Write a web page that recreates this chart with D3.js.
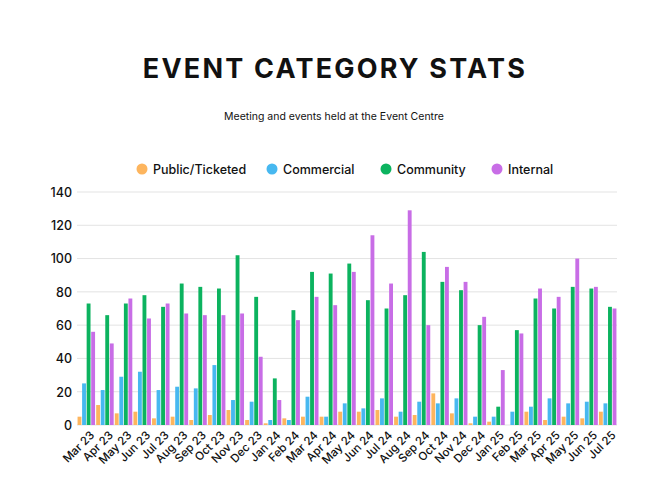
<!DOCTYPE html>
<html>
<head>
<meta charset="utf-8">
<script src="https://cdn.jsdelivr.net/npm/d3@7"></script>
<style>
  body { margin: 0; background: #fff; }
  text { font-family: Inter, "Noto Sans", sans-serif; fill: #111; }
</style>
</head>
<body>
<div id="chart"></div>
<script>
// months shown along the x axis
var months = ["Mar 23","Apr 23","May 23","Jun 23","Jul 23","Aug 23","Sep 23","Oct 23","Nov 23","Dec 23",
  "Jan 24","Feb 24","Mar 24","Apr 24","May 24","Jun 24","Jul 24","Aug 24","Sep 24","Oct 24","Nov 24","Dec 24",
  "Jan 25","Feb 25","Mar 25","Apr 25","May 25","Jun 25","Jul 25"];

var publicTicketed = [5,12,7,8,4,5,3,6,9,3, 1,4,5,5,8,8,9,5,6,19,7,1, 2,0,8,3,5,4,8];
var commercial     = [25,21,29,32,21,23,22,36,15,14, 3,3,17,5,13,10,16,8,14,13,16,5, 5,8,11,16,13,14,13];
var community      = [73,66,73,78,71,85,83,82,102,77, 28,69,92,91,97,75,70,78,104,86,81,60, 11,57,76,70,83,82,71];
var internal       = [56,49,76,64,73,67,66,66,67,41, 15,63,77,72,92,114,85,129,60,95,86,65, 33,55,82,77,100,83,70];

var seriesNames = ["Public/Ticketed","Commercial","Community","Internal"];
var seriesColors = ["#fdb55e","#47b8f0","#0cb35f","#c86de6"];
var yTicks = [0,20,40,60,80,100,120,140];

var width = 667, height = 500;
var svg = d3.select("#chart").append("svg")
  .attr("width", width).attr("height", height);

// title + subtitle
svg.append("text")
  .attr("x", 335).attr("y", 78)
  .attr("text-anchor", "middle")
  .style("font-size", "27px").style("font-weight", "700")
  .style("letter-spacing", "2.2px")
  .text("EVENT CATEGORY STATS");

svg.append("text")
  .attr("x", 334).attr("y", 120)
  .attr("text-anchor", "middle")
  .style("font-size", "10.5px")
  .text("Meeting and events held at the Event Centre");

// legend
var legendX = [142, 272, 386, 497];
var legend = svg.selectAll(".legend").data(seriesNames).enter().append("g")
  .attr("transform", function (d, i) { return "translate(" + legendX[i] + ",169)"; });
legend.append("circle").attr("r", 5.5).attr("fill", function (d, i) { return seriesColors[i]; });
legend.append("text").attr("x", 11).attr("y", 4.5)
  .style("font-size", "12.5px").style("font-weight", "500")
  .text(function (d) { return d; });

// scales
var x = d3.scaleBand().domain(months).range([77, 617]).paddingInner(0.06).paddingOuter(0.03);
var xInner = d3.scaleBand().domain(d3.range(4)).range([0, x.bandwidth()]).paddingInner(0.15);
var y = d3.scaleLinear().domain([0, 140]).range([425, 192]);

// grid
svg.append("g").selectAll("line").data(yTicks).enter().append("line")
  .attr("x1", 77).attr("x2", 617)
  .attr("y1", function (d) { return y(d); }).attr("y2", function (d) { return y(d); })
  .attr("stroke", "#e3e3e3").attr("stroke-width", 1);

// y axis
var yAxis = svg.append("g").attr("transform", "translate(72,0)")
  .call(d3.axisLeft(y).tickValues(yTicks).tickSize(0).tickPadding(0));
yAxis.select(".domain").remove();
yAxis.selectAll("text").style("font-size", "12.5px").style("font-weight", "500")
  .attr("fill", "#111").attr("dy", "0.35em");

// x axis
var xAxis = svg.append("g").attr("transform", "translate(0,425)")
  .call(d3.axisBottom(x).tickSize(0).tickPadding(0));
xAxis.select(".domain").remove();
xAxis.selectAll("text")
  .style("font-size", "11.5px").style("font-weight", "500")
  .attr("fill", "#111")
  .attr("text-anchor", "end")
  .attr("transform", "translate(6,8) rotate(-45)")
  .attr("dy", "0.35em");

// bars
var allSeries = [publicTicketed, commercial, community, internal];
var groups = svg.append("g").selectAll("g").data(months).enter().append("g")
  .attr("transform", function (d) { return "translate(" + x(d) + ",0)"; });
groups.selectAll("rect")
  .data(function (d, mi) { return allSeries.map(function (s, si) { return { si: si, v: s[mi] }; }); })
  .enter().append("rect")
  .attr("x", function (d) { return xInner(d.si); })
  .attr("width", xInner.bandwidth())
  .attr("y", function (d) { return y(d.v); })
  .attr("height", function (d) { return y(0) - y(d.v); })
  .attr("fill", function (d) { return seriesColors[d.si]; });
</script>
</body>
</html>
